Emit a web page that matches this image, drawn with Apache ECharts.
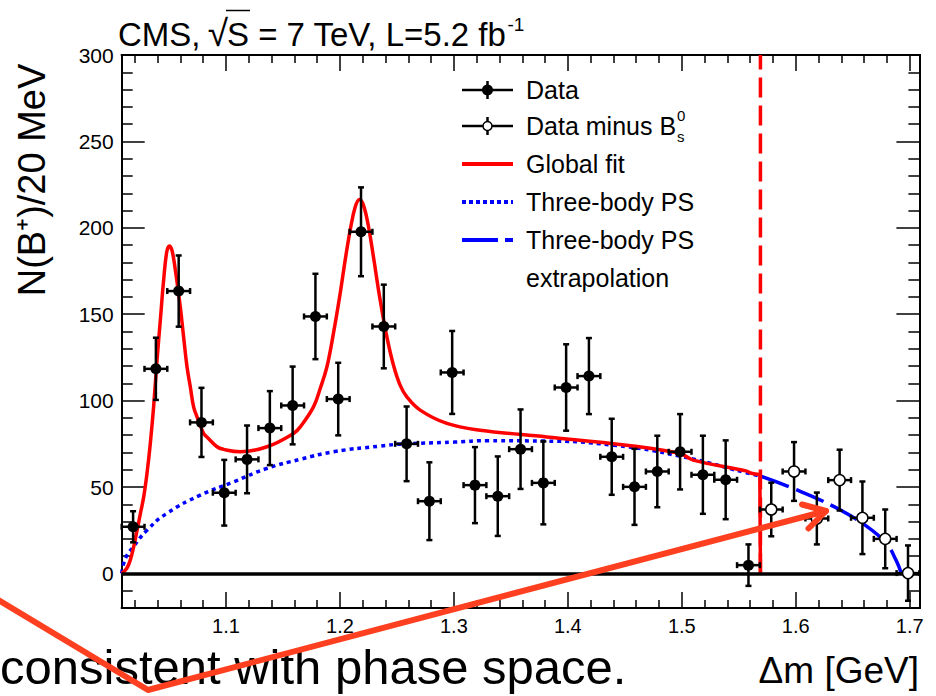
<!DOCTYPE html>
<html><head><meta charset="utf-8">
<script src="https://cdn.jsdelivr.net/npm/echarts@6/dist/echarts.min.js"></script>
<style>html,body{margin:0;padding:0;background:#fff}#c{width:936px;height:696px}</style>
</head><body><div id="c"></div>
<script>
const FONT = "'Liberation Sans', Arial, Helvetica, sans-serif";
const xMin = 1.0085, xMax = 1.7085, yMin = -20, yMax = 300;
const halfBin = 0.01;
const xMajor = [1.1, 1.2, 1.3, 1.4, 1.5, 1.6, 1.7];
const xMinor = [1.02, 1.04, 1.06, 1.08, 1.12, 1.14, 1.16, 1.18, 1.22, 1.24, 1.26, 1.28, 1.32, 1.34, 1.36, 1.38,
  1.42, 1.44, 1.46, 1.48, 1.52, 1.54, 1.56, 1.58, 1.62, 1.64, 1.66, 1.68];
const yMajor = [0, 50, 100, 150, 200, 250, 300];
const yMinor = [-10, 10, 20, 30, 40, 60, 70, 80, 90, 110, 120, 130, 140, 160, 170, 180, 190, 210, 220, 230, 240, 260, 270, 280, 290];

// Data (filled points)
const dataX = [1.0185, 1.0385, 1.0585, 1.0785, 1.0985, 1.1185, 1.1385, 1.1585, 1.1785, 1.1985, 1.2185, 1.2385, 1.2585, 1.2785,
  1.2985, 1.3185, 1.3385, 1.3585, 1.3785, 1.3985, 1.4185, 1.4385, 1.4585, 1.4785, 1.4985, 1.5185, 1.5385, 1.5585];
const dataY = [27, 118.4, 163.4, 87.4, 46.7, 66, 84.1, 97.2, 148.7, 100.9, 197.7, 142.9, 75, 41.8,
  116.3, 51.1, 44.7, 71.9, 52.4, 107.6, 114.2, 67.5, 50.1, 59, 70.4, 57.1, 54.2, 4.8];
const dataErr = [9, 18, 20.6, 20, 19, 19.6, 21.4, 22.5, 24.7, 21, 25.7, 24.2, 21.6, 22.5,
  24, 22, 23, 23, 24, 25, 22, 22, 22, 20.7, 21.8, 22.6, 22.8, 12];
// Data minus Bs0 (open points)
const openX = [1.5785, 1.5985, 1.6185, 1.6385, 1.6585, 1.6785, 1.6985];
const openY = [37, 59, 31.8, 54, 32.2, 20, 0.2];
const openErr = [15.5, 17, 15, 17.6, 21, 17, 16];

// Global fit
const fitX = [1.0085, 1.013, 1.016, 1.019, 1.022, 1.0249, 1.0278, 1.0307, 1.0336, 1.0365, 1.0395, 1.0424, 1.0453, 1.048, 1.0503,
  1.0526, 1.0556, 1.0599, 1.0628, 1.0658, 1.0687, 1.0716, 1.0746, 1.0804, 1.0833, 1.0921, 1.0979, 1.1125, 1.136, 1.1593,
  1.1652, 1.1768, 1.1827, 1.1886, 1.1943, 1.2002, 1.2046, 1.209, 1.2134, 1.2172, 1.2207, 1.2251, 1.2294, 1.2353, 1.2412,
  1.247, 1.2528, 1.2587, 1.2704, 1.2938, 1.323, 1.3815, 1.4516, 1.4983, 1.51, 1.557, 1.561, 1.5685, 1.569];
const fitY = [0, 3, 7.7, 15.4, 25, 34.7, 44.3, 57.9, 75.2, 96.4, 123.4, 146.6, 169.7, 186, 189.5,
  187, 175.5, 154.3, 137, 119.6, 108, 96.4, 90.6, 81, 79, 73.3, 71.8, 70.4, 73.3, 81,
  84.8, 96.4, 107, 119.6, 138.9, 162, 181.3, 198.7, 212, 216.4, 213, 200.6, 183.2, 158.2, 136.9,
  120.5, 109, 102.2, 94.5, 86.8, 82.9, 79, 74.2, 69.4, 65.6, 59.2, 58, 57.3, 0];
// Three-body phase space
const psX = [1.0085, 1.012, 1.0187, 1.0307, 1.048, 1.0775, 1.1067, 1.136, 1.165, 1.1944, 1.2353, 1.2528, 1.30, 1.33, 1.3785, 1.44, 1.498, 1.5568, 1.569];
const psY = [0, 9, 15.4, 25, 34.7, 45.3, 53, 60.8, 66, 70.4, 73.7, 74.8, 76, 76.8, 76.6, 74.2, 67.9, 58.2, 56.3];
// Three-body phase space extrapolation
const extX = [1.569, 1.5977, 1.634, 1.662, 1.6795, 1.688, 1.6925];
const extY = [56.3, 49.2, 38.5, 27.4, 17.4, 7.7, 0.3];
const cutX = 1.569;

const legendLabels = ['Data', 'Data minus B', 'Global fit', 'Three-body PS', 'Three-body PS', 'extrapolation'];

const zip = (a, b, c) => a.map((v, i) => c ? [v, b[i], c[i]] : [v, b[i]]);

const mctx = document.createElement('canvas').getContext('2d');
function tw(text, size) { mctx.font = size + 'px ' + FONT; return mctx.measureText(text).width; }
// y for 'middle' aligned text so that its alphabetic baseline lands on b
const mid = (b, size) => b - 0.3465 * size;

function makeErrRender(open) {
  return function (params, api) {
    const x = api.value(0), y = api.value(1), e = api.value(2);
    const c = api.coord([x, y]);
    const t = api.coord([x, y + e]);
    const b = api.coord([x, y - e]);
    const l = api.coord([x - halfBin, y]);
    const r = api.coord([x + halfBin, y]);
    const s = { stroke: '#000', lineWidth: 2.5 };
    const cap = 3;
    return { type: 'group', children: [
      { type: 'line', shape: { x1: c[0], y1: t[1], x2: c[0], y2: b[1] }, style: s },
      { type: 'line', shape: { x1: l[0], y1: c[1], x2: r[0], y2: c[1] }, style: s },
      { type: 'line', shape: { x1: c[0] - cap, y1: t[1], x2: c[0] + cap, y2: t[1] }, style: s },
      { type: 'line', shape: { x1: c[0] - cap, y1: b[1], x2: c[0] + cap, y2: b[1] }, style: s },
      { type: 'line', shape: { x1: l[0], y1: c[1] - cap, x2: l[0], y2: c[1] + cap }, style: s },
      { type: 'line', shape: { x1: r[0], y1: c[1] - cap, x2: r[0], y2: c[1] + cap }, style: s },
      { type: 'circle', shape: { cx: c[0], cy: c[1], r: 5.5 },
        style: open ? { fill: '#fff', stroke: '#000', lineWidth: 1.5 } : { fill: '#000' } }
    ] };
  };
}

function xAxisDef(pos, ticks, len, labels) {
  return {
    type: 'value', position: pos, min: xMin, max: xMax,
    axisLine: { show: true, onZero: false, lineStyle: { color: '#000', width: 2 } },
    axisTick: { show: true, inside: true, length: len, customValues: ticks, lineStyle: { color: '#000', width: 1.5 } },
    axisLabel: labels ? { show: true, customValues: xMajor, formatter: v => v.toFixed(1), color: '#000', fontSize: 20, fontFamily: FONT, margin: 8 } : { show: false },
    splitLine: { show: false }
  };
}
function yAxisDef(pos, ticks, len, labels) {
  return {
    type: 'value', position: pos, min: yMin, max: yMax,
    axisLine: { show: true, onZero: false, lineStyle: { color: '#000', width: 2 } },
    axisTick: { show: true, inside: true, length: len, customValues: ticks, lineStyle: { color: '#000', width: 1.5 } },
    axisLabel: labels ? { show: true, customValues: yMajor, color: '#000', fontSize: 21, fontFamily: FONT, margin: 8 } : { show: false },
    splitLine: { show: false }
  };
}

const RED = '#ff0000', BLUE = '#0000ff', ARROW = '#ff4020';
const rowY = [90, 126, 164, 202, 240, 278];
const symL = 462, symR = 513, textX = 526, LFS = 25;

const legendGraphics = [];
legendLabels.forEach((t, i) => {
  legendGraphics.push({ type: 'text', x: textX, y: rowY[i], style: { text: t, font: LFS + 'px ' + FONT, fill: '#000', verticalAlign: 'middle' } });
});
const bsX = textX + tw(legendLabels[1], LFS) + 1;
const symC = (symL + symR) / 2;
legendGraphics.push(
  { type: 'line', shape: { x1: symL, y1: rowY[0], x2: symR, y2: rowY[0] }, style: { stroke: '#000', lineWidth: 2.5 } },
  { type: 'line', shape: { x1: symC, y1: rowY[0] - 9, x2: symC, y2: rowY[0] + 9 }, style: { stroke: '#000', lineWidth: 2.5 } },
  { type: 'circle', shape: { cx: symC, cy: rowY[0], r: 5.5 }, style: { fill: '#000' } },
  { type: 'line', shape: { x1: symL, y1: rowY[1], x2: symR, y2: rowY[1] }, style: { stroke: '#000', lineWidth: 2.5 } },
  { type: 'line', shape: { x1: symC, y1: rowY[1] - 9, x2: symC, y2: rowY[1] + 9 }, style: { stroke: '#000', lineWidth: 2.5 } },
  { type: 'circle', shape: { cx: symC, cy: rowY[1], r: 4.5 }, style: { fill: '#fff', stroke: '#000', lineWidth: 1.5 } },
  { type: 'text', x: bsX, y: rowY[1] + 10, style: { text: 's', font: '15px ' + FONT, fill: '#000', verticalAlign: 'middle' } },
  { type: 'text', x: bsX, y: rowY[1] - 11, style: { text: '0', font: '15px ' + FONT, fill: '#000', verticalAlign: 'middle' } },
  { type: 'line', shape: { x1: symL, y1: rowY[2], x2: symR, y2: rowY[2] }, style: { stroke: RED, lineWidth: 4 } },
  { type: 'line', shape: { x1: symL, y1: rowY[3], x2: symR, y2: rowY[3] }, style: { stroke: BLUE, lineWidth: 4, lineDash: [4, 3] } },
  { type: 'line', shape: { x1: symL, y1: rowY[4], x2: symR, y2: rowY[4] }, style: { stroke: BLUE, lineWidth: 4, lineDash: [36, 7] } }
);

// Title: CMS, sqrt(S) = 7 TeV, L=5.2 fb^-1
const TX = 118, TB = 45.5, TFS = 33, RFS = 37;
const t1 = 'CMS, ', t2 = '\u221A', t3 = 'S = 7 TeV, L=5.2 fb';
const w1 = tw(t1, TFS), w2 = tw(t2, RFS), w3 = tw(t3, TFS), wS = tw('S', TFS);
const sX = TX + w1 + w2 - 3;
const titleGraphics = [
  { type: 'text', x: TX, y: mid(TB, TFS), style: { text: t1, font: TFS + 'px ' + FONT, fill: '#000', verticalAlign: 'middle' } },
  { type: 'text', x: TX + w1 - 2, y: mid(TB + 1, RFS), style: { text: t2, font: RFS + 'px ' + FONT, fill: '#000', verticalAlign: 'middle' } },
  { type: 'text', x: sX, y: mid(TB, TFS), style: { text: t3, font: TFS + 'px ' + FONT, fill: '#000', verticalAlign: 'middle' } },
  { type: 'text', x: sX + w3 + 1, y: mid(TB - 14, 19), style: { text: '-1', font: '19px ' + FONT, fill: '#000', verticalAlign: 'middle' } },
  { type: 'line', shape: { x1: sX - 1, y1: 10.5, x2: sX + wS + 1, y2: 10.5 }, style: { stroke: '#000', lineWidth: 1.5 } }
];

// Slide annotations
const slideGraphics = [
  { type: 'text', x: 32, y: 180, rotation: Math.PI / 2, style: { text: 'N(B\u207A)/20 MeV', font: '38px ' + FONT, fill: '#000', align: 'center', verticalAlign: 'middle' } },
  { type: 'text', x: 0, y: mid(684, 49), style: { text: 'consistent with phase space.', font: '49px ' + FONT, fill: '#000', verticalAlign: 'middle' } },
  { type: 'text', x: 919, y: mid(683, 37), style: { text: '\u0394m [GeV]', font: '37px ' + FONT, fill: '#000', align: 'right', verticalAlign: 'middle' } },
  { type: 'polyline', z: 100, shape: { points: [[-5, 598], [148, 690], [826, 511]] }, style: { stroke: ARROW, lineWidth: 6, fill: null, lineJoin: 'round', lineCap: 'round' } },
  { type: 'polyline', z: 100, shape: { points: [[802, 504.5], [826, 511], [808.5, 528.5]] }, style: { stroke: ARROW, lineWidth: 6, fill: null, lineJoin: 'round', lineCap: 'round' } }
];

const fitPts = zip(fitX, fitY);
const chart = echarts.init(document.getElementById('c'), null, { renderer: 'svg' });
chart.setOption({
  animation: false,
  backgroundColor: '#fff',
  grid: { left: 121.7, right: 16.6, top: 55, bottom: 88, containLabel: false },
  xAxis: [xAxisDef('bottom', xMajor, 16, true), xAxisDef('bottom', xMinor, 8, false), xAxisDef('top', xMajor, 16, false), xAxisDef('top', xMinor, 8, false)],
  yAxis: [yAxisDef('left', yMajor, 23, true), yAxisDef('left', yMinor, 11, false), yAxisDef('right', yMajor, 23, false), yAxisDef('right', yMinor, 11, false)],
  series: [
    { type: 'line', data: [], markLine: { silent: true, symbol: 'none', label: { show: false }, lineStyle: { color: '#000', width: 3.5, type: 'solid' }, data: [{ yAxis: 0 }] } },
    { name: 'Three-body PS', type: 'line', data: zip(psX, psY), smooth: 0.5, showSymbol: false, lineStyle: { color: BLUE, width: 3.5, type: [4, 4] }, z: 3 },
    { name: 'Three-body PS extrapolation', type: 'line', data: zip(extX, extY), smooth: 0.4, showSymbol: false, lineStyle: { color: BLUE, width: 3.5, type: [30, 8] }, z: 3 },
    { name: 'cut', type: 'line', data: [[cutX, 0], [cutX, yMax]], showSymbol: false, lineStyle: { color: RED, width: 3.5, type: [20, 8] }, z: 4 },
    { name: 'Global fit', type: 'line', data: fitPts.slice(0, -1), smooth: 0.4, showSymbol: false, lineStyle: { color: RED, width: 3.5 }, z: 4 },
    { name: 'Global fit edge', type: 'line', data: fitPts.slice(-2), showSymbol: false, lineStyle: { color: RED, width: 3.5 }, z: 4 },
    { name: 'Data', type: 'custom', renderItem: makeErrRender(false), data: zip(dataX, dataY, dataErr), encode: { x: 0, y: 1 }, z: 6, clip: false },
    { name: 'Data minus Bs0', type: 'custom', renderItem: makeErrRender(true), data: zip(openX, openY, openErr), encode: { x: 0, y: 1 }, z: 6, clip: false }
  ],
  graphic: [...legendGraphics, ...titleGraphics, ...slideGraphics]
});
</script></body></html>
